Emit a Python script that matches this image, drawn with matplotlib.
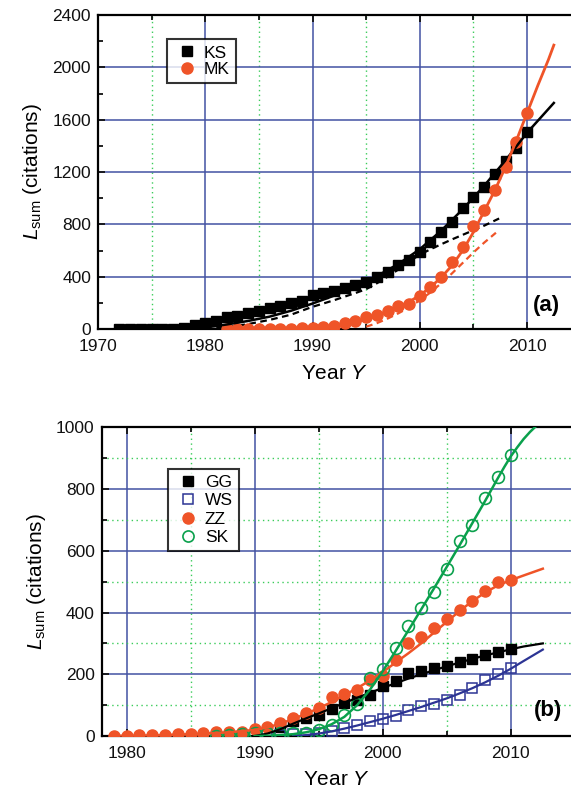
import matplotlib
matplotlib.use("Agg")
import matplotlib.pyplot as plt
from matplotlib.ticker import MultipleLocator
from matplotlib.lines import Line2D

plt.rcParams['font.family'] = ['Liberation Sans', 'DejaVu Sans']
plt.rcParams['mathtext.fontset'] = 'custom'
plt.rcParams['mathtext.rm'] = 'Liberation Sans'
plt.rcParams['mathtext.it'] = 'Liberation Sans:italic'

ORANGE = '#ef5428'
GREEN = '#0aa04c'
NAVY = '#2c3494'
GRID_BLUE = '#4352a3'
GRID_GREEN = '#3acc5a'

# ---- panel (a) ----
ks_years = list(range(1972, 2011))
ks_vals = [0, 0, 0, 0, 0, 0, 8, 30, 50, 61, 89, 99, 120, 140, 158, 178, 201, 214,
           257, 273, 291, 311, 336, 362, 400, 438, 489, 527, 591, 663, 744, 820,
           922, 1007, 1083, 1185, 1284, 1381, 1508]
mk_years = list(range(1982, 2011))
mk_vals = [0, 0, 0, 1, 1, 2, 3, 5, 10, 18, 23, 43, 63, 89, 110, 140, 173, 191,
           250, 319, 400, 515, 629, 790, 910, 1063, 1236, 1432, 1654]

ks_fit_x = [1978, 1980, 1982, 1984, 1986, 1988, 1990, 1992, 1994, 1996, 1998,
            2000, 2002, 2004, 2006, 2008, 2010, 2012.5]
ks_fit_y = [0, 12, 35, 62, 95, 140, 195, 255, 325, 405, 497,
            610, 752, 915, 1095, 1290, 1500, 1728]
ks_dash_x = [1980, 1982, 1984, 1986, 1988, 1990, 1991, 1992, 1993, 1994, 1995,
             1996, 1997, 1998, 1999, 2000, 2001, 2002, 2003, 2004, 2005, 2006, 2007.4]
ks_dash_y = [0, 14, 38, 70, 110, 170, 195, 220, 248, 275, 305,
             350, 400, 455, 515, 568, 610, 648, 685, 720, 755, 790, 845]
mk_fit_x = [1982, 1988, 1990, 1991, 1992, 1993, 1994, 1995, 1996, 1997, 1998, 1999,
            2000, 2001, 2002, 2003, 2004, 2005, 2006, 2007, 2008, 2009, 2010,
            2011, 2012, 2012.5]
mk_fit_y = [0, 2, 6, 10, 18, 30, 50, 75, 103, 135, 168, 208,
            258, 320, 395, 485, 600, 740, 900, 1060, 1240, 1440, 1650,
            1860, 2060, 2170]
mk_dash_x = [1995, 1996, 1997, 1998, 1999, 2000, 2001, 2002, 2003, 2004, 2005, 2006, 2007.1]
mk_dash_y = [18, 45, 80, 120, 165, 220, 280, 350, 425, 505, 585, 660, 736]

# ---- panel (b) ----
gg_years = list(range(1992, 2011))
gg_vals = [30, 48, 60, 68, 87, 106, 117, 133, 163, 179, 205, 212, 220, 228, 239,
           249, 263, 272, 281]
ws_years = list(range(1991, 2011))
ws_vals = [2, 3, 5, 7, 10, 15, 25, 36, 48, 55, 64, 84, 96, 105, 116, 134, 156,
           180, 202, 220]
zz_years = list(range(1979, 2011))
zz_vals = [0, 1, 2, 3, 4, 5, 8, 11, 13, 14, 14, 22, 30, 43, 57, 74, 90, 125, 137,
           149, 180, 195, 245, 301, 322, 350, 380, 409, 438, 471, 498, 505]
sk_years = list(range(1987, 2011))
sk_vals = [0, 3, 6, 9, 9, 9, 10, 11, 19, 35, 69, 105, 187, 217, 286, 356, 416,
           466, 542, 631, 684, 772, 840, 910]

gg_fit_x = [1990, 1991, 1992, 1993, 1994, 1995, 1996, 1997, 1998, 1999, 2000, 2001,
            2002, 2003, 2004, 2005, 2006, 2007, 2008, 2009, 2010, 2011, 2012.5]
gg_fit_y = [0, 8, 22, 40, 57, 73, 90, 107, 124, 140, 156, 171,
            186, 200, 213, 226, 238, 250, 261, 271, 281, 290, 300]
ws_fit_x = [1993, 1994, 1995, 1996, 1997, 1998, 1999, 2000, 2001, 2002, 2003,
            2004, 2005, 2006, 2007, 2008, 2009, 2010, 2011, 2012.5]
ws_fit_y = [0, 3, 8, 15, 24, 34, 45, 56, 68, 81, 94,
            108, 122, 138, 155, 174, 195, 218, 243, 280]
zz_fit_x = [1979, 1982, 1985, 1988, 1990, 1991, 1992, 1993, 1994, 1995, 1996, 1997,
            1998, 1999, 2000, 2001, 2002, 2003, 2004, 2005, 2006, 2007, 2008,
            2009, 2010, 2011, 2012.5]
zz_fit_y = [0, 2, 6, 12, 20, 28, 40, 55, 72, 90, 110, 132,
            155, 180, 207, 238, 268, 300, 335, 370, 405, 437, 465,
            488, 505, 520, 542]
sk_fit_x = [1990, 1991, 1992, 1993, 1994, 1995, 1996, 1997, 1998, 1999, 2000, 2001,
            2002, 2003, 2004, 2005, 2006, 2007, 2008, 2009, 2009.5, 2010, 2010.5,
            2011, 2011.5, 2012, 2012.5]
sk_fit_y = [0, 1, 3, 6, 12, 22, 38, 62, 100, 150, 210, 275,
            342, 410, 478, 548, 618, 690, 762, 836, 872, 906, 935,
            962, 985, 1005, 1022]


def style_axes(ax, xlim, ylim, ymajor, yminor, ygrid_minor):
    ax.set_xlim(*xlim)
    ax.set_ylim(*ylim)
    ax.xaxis.set_major_locator(MultipleLocator(10))
    ax.xaxis.set_minor_locator(MultipleLocator(5))
    ax.yaxis.set_major_locator(MultipleLocator(ymajor))
    ax.yaxis.set_minor_locator(MultipleLocator(yminor))
    ax.grid(which='major', color=GRID_BLUE, lw=1.1, ls='-')
    ax.grid(which='minor', axis='x', color=GRID_GREEN, lw=1.0, ls=(0, (1, 2.5)))
    if ygrid_minor:
        ax.grid(which='minor', axis='y', color=GRID_GREEN, lw=1.0, ls=(0, (1, 2.5)))
    ax.set_axisbelow(True)
    ax.tick_params(which='both', direction='in', top=True, right=False,
                   labelsize=12.5, width=1.3, colors='#111111')
    ax.tick_params(axis='y', pad=5)
    ax.tick_params(axis='x', pad=7)
    ax.tick_params(which='major', length=5)
    ax.tick_params(which='minor', length=3.5)
    for side in ('left', 'top', 'bottom'):
        ax.spines[side].set_linewidth(1.6)
    ax.spines['right'].set_visible(False)
    ax.set_xlabel(r'Year $Y$', fontsize=15, labelpad=7)
    ax.set_ylabel(r'$L_{\rm sum}$ (citations)', fontsize=15, labelpad=6)


def boxed_legend(ax, handles, labels, anchor, spacing):
    leg = ax.legend(handles=handles, labels=labels, loc='upper left',
                    bbox_to_anchor=anchor, borderaxespad=0, fontsize=12.5,
                    frameon=True, fancybox=False, handletextpad=0.2,
                    borderpad=0.35, labelspacing=spacing, handlelength=1.6)
    leg.get_frame().set_edgecolor('black')
    leg.get_frame().set_linewidth(1.5)
    return leg


fig = plt.figure(figsize=(5.71, 7.91), dpi=100)

ax1 = fig.add_axes([0.1716, 0.584, 0.8284, 0.397])
style_axes(ax1, (1970, 2014.1), (0, 2400), 400, 200, False)
ax1.plot(ks_dash_x, ks_dash_y, color='black', lw=1.6, ls=(0, (3, 2)), zorder=3)
ax1.plot(mk_dash_x, mk_dash_y, color=ORANGE, lw=1.6, ls=(0, (3, 2)), zorder=3)
ax1.plot(ks_years, ks_vals, 's', color='black', ms=7.5, zorder=4)
ax1.plot(mk_years, mk_vals, 'o', color=ORANGE, ms=8, zorder=4)
ax1.plot(ks_fit_x, ks_fit_y, color='black', lw=1.8, zorder=5)
ax1.plot(mk_fit_x, mk_fit_y, color=ORANGE, lw=2.0, zorder=5)
boxed_legend(ax1, [
    Line2D([], [], marker='s', ls='none', color='black', ms=7),
    Line2D([], [], marker='o', ls='none', color=ORANGE, ms=8)],
    ['KS', 'MK'], (0.145, 0.9226), 0.05)
ax1.text(0.948, 0.076, '(a)', transform=ax1.transAxes, fontsize=16,
         fontweight='bold', ha='center', va='center')

ax2 = fig.add_axes([0.178, 0.0695, 0.822, 0.3903])
style_axes(ax2, (1978.05, 2014.7), (0, 1000), 200, 100, True)
ax2.plot(gg_years, gg_vals, 's', color='black', ms=7.5, zorder=4)
ax2.plot(ws_years, ws_vals, 's', mfc='none', mec=NAVY, mew=1.1, ms=7.5, zorder=4)
ax2.plot(zz_years, zz_vals, 'o', color=ORANGE, ms=8, zorder=4)
ax2.plot(sk_years, sk_vals, 'o', mfc='none', mec=GREEN, mew=1.2, ms=8.5, zorder=4)
ax2.plot(gg_fit_x, gg_fit_y, color='black', lw=1.6, zorder=5)
ax2.plot(ws_fit_x, ws_fit_y, color=NAVY, lw=1.6, zorder=5)
ax2.plot(zz_fit_x, zz_fit_y, color=ORANGE, lw=1.8, zorder=5)
ax2.plot(sk_fit_x, sk_fit_y, color=GREEN, lw=1.8, zorder=5)
boxed_legend(ax2, [
    Line2D([], [], marker='s', ls='none', color='black', ms=7),
    Line2D([], [], marker='s', ls='none', mfc='none', mec=NAVY, mew=1.1, ms=7),
    Line2D([], [], marker='o', ls='none', color=ORANGE, ms=8),
    Line2D([], [], marker='o', ls='none', mfc='none', mec=GREEN, mew=1.2, ms=8)],
    ['GG', 'WS', 'ZZ', 'SK'], (0.1406, 0.865), 0.18)
ax2.text(0.95, 0.084, '(b)', transform=ax2.transAxes, fontsize=16,
         fontweight='bold', ha='center', va='center')

fig.savefig('out.png', dpi=100)
